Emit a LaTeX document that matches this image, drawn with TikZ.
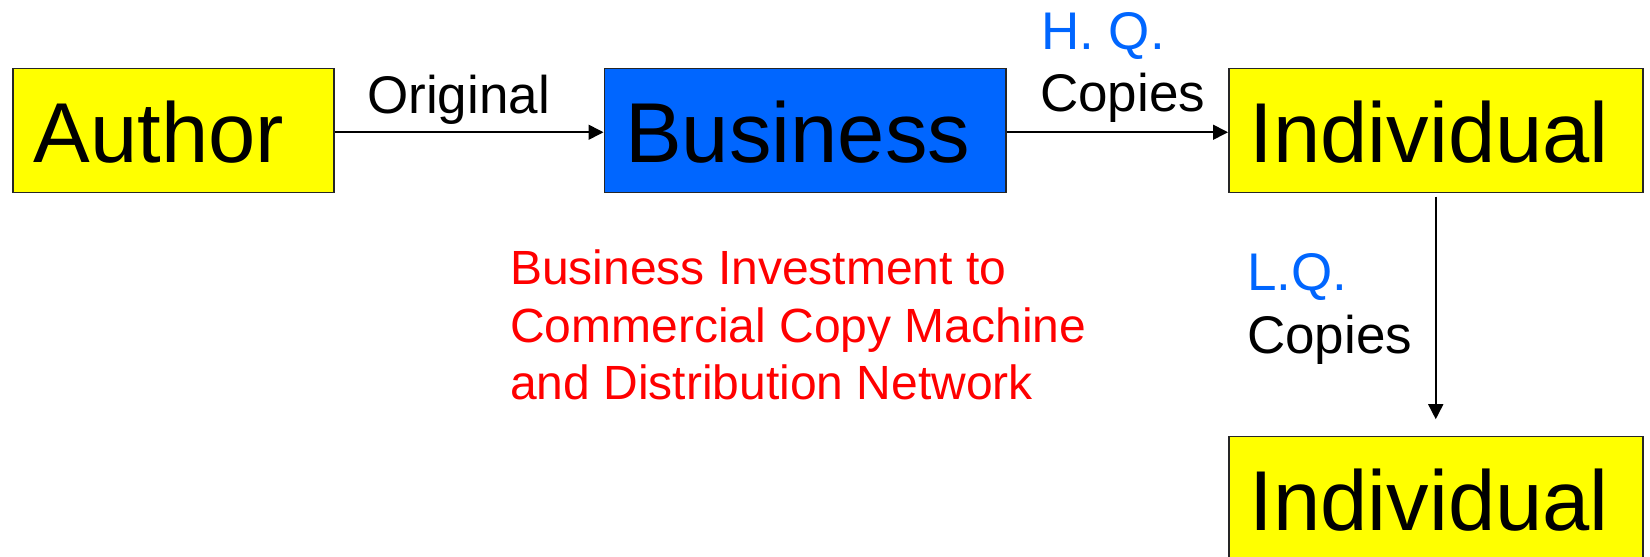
\documentclass[tikz,border=0pt]{standalone}
\usepackage{fontspec}
\setmainfont{Liberation Sans}
\usetikzlibrary{arrows.meta}
\definecolor{boxyellow}{RGB}{255,255,0}
\definecolor{bizblue}{RGB}{0,102,255}
\definecolor{notered}{RGB}{255,0,0}
\begin{document}
\begin{tikzpicture}[x=1pt,y=-1pt,
  box/.style={draw=black!85, line width=1.5pt, anchor=north west,
    minimum height=124pt, inner xsep=21pt, inner ysep=0pt, align=left,
    text height=64pt, text depth=0pt, font=\fontsize{85}{100}\selectfont},
  lbl/.style={anchor=base west, inner sep=0pt, font=\fontsize{53}{63}\selectfont},
  note/.style={anchor=base west, inner sep=0pt, text=notered,
    font=\fontsize{48}{58}\selectfont},
  flow/.style={line width=1.6pt, -{Triangle[length=15pt,width=15pt]}}]
\useasboundingbox (0,0) rectangle (1650,557);
\clip (0,0) rectangle (1650,557);
\fill[white] (0,0) rectangle (1650,557);

% boxes
\node[box, fill=boxyellow, text width=279pt] (author) at (12,67.5) {Author};
\node[box, fill=bizblue, text width=359.5pt] (business) at (603.5,67.5) {Business};
\node[box, fill=boxyellow, text width=372pt] (ind1) at (1228,67.5) {Individual};
\node[box, fill=boxyellow, text width=372pt] (ind2) at (1228,435.7) {Individual};

% connectors
\draw[flow] ([yshift=-2pt]author.east) -- ([yshift=-2pt]business.west);
\draw[flow] ([yshift=-2pt]business.east) -- ([yshift=-2pt]ind1.west);
\draw[flow, shorten <=3.5pt, shorten >=16.5pt] (ind1.south) -- (ind2.north);

% connector labels
\node[lbl] (orig) at (367,113.3) {Original};
\node[lbl, text=bizblue] (hq) at (1041,49.3) {H. Q.};
\node[lbl] (hqc) at (1040,111.7) {Copies};
\node[lbl, text=bizblue] (lq) at (1247,290) {L.Q.};
\node[lbl] (lqc) at (1247,353.3) {Copies};

% investment note
\node[note] (inv1) at (510,284) {Business Investment to};
\node[note] (inv2) at (510,342.7) {Commercial Copy Machine};
\node[note] (inv3) at (510,399.3) {and Distribution Network};
\end{tikzpicture}
\end{document}
